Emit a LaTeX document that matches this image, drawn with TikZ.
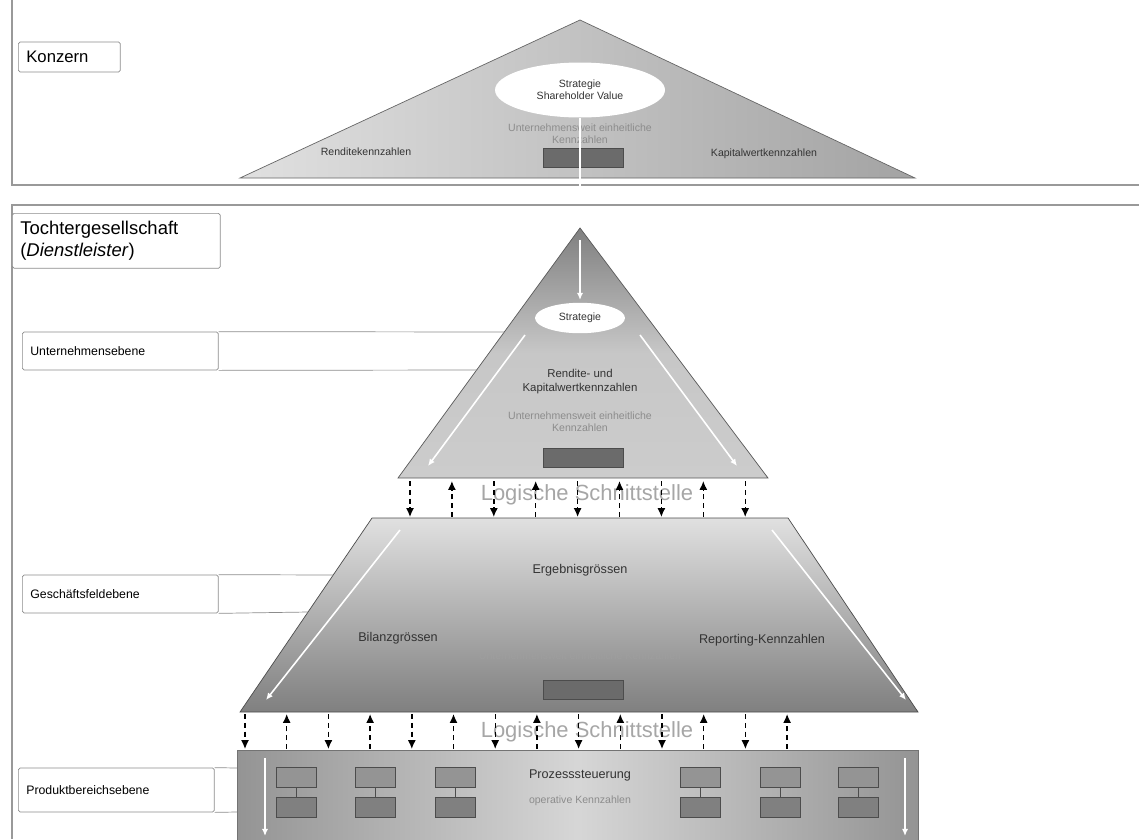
\documentclass[tikz,border=0pt]{standalone}
\usepackage{fontspec}
\setmainfont{Liberation Sans}
\usetikzlibrary{shapes.geometric, arrows.meta}

\tikzset{
  rahmen/.style={draw=black!40, line width=0.6pt},
  ebene/.style={draw=black!45, rounded corners=1pt, fill=white, anchor=west,
    font=\fontsize{7}{8}\selectfont, align=left, inner xsep=0.16cm,
    text width=3.6cm, minimum height=0.76cm},
  kz/.style={font=\fontsize{6}{7}\selectfont, text=black!80, align=center},
  kzgross/.style={kz, font=\fontsize{7.2}{8.5}\selectfont},
  blass/.style={kz, text=black!45},
  block/.style={draw=black!70, fill=black!58, minimum width=1.6cm, minimum height=0.38cm, inner sep=0pt},
  kasten/.style={draw=black!70, fill=black!50, minimum width=0.8cm, minimum height=0.4cm, inner sep=0pt},
  pfeil/.style={densely dashed, line width=0.8pt, -{Latex[length=5pt,width=4.5pt]}},
  schnitt/.style={font=\fontsize{12.5}{14}\selectfont, text=black!35},
  weiss/.style={white, line width=0.9pt, -{Latex[length=4pt,width=3.5pt]}},
}

\begin{document}
\begin{tikzpicture}[x=0.02cm, y=-0.02cm]
  \useasboundingbox (0,0) rectangle (1139,839);

  % Rahmen der beiden Ebenen
  \draw[rahmen] (12,0) -- (12,185) -- (1139,185);
  \draw[rahmen] (1139,205) -- (12,205) -- (12,839);

  % Konzern
  \draw[draw=black!60, left color=black!12, right color=black!36] (580,20) -- (915,178) -- (240,178) -- cycle;
  \node[ellipse, fill=white, minimum width=3.4cm, minimum height=1.1cm, kz] (strat1) at (580,90) {Strategie\\Shareholder Value};
  \node[blass] (kzk) at (580,134) {Unternehmensweit einheitliche\\Kennzahlen};
  \node[kz] (rendite) at (366,152) {Renditekennzahlen};
  \node[kz] (kapital) at (764,154) {Kapitalwertkennzahlen};
  \node[block] (blk1) at (583,158) {};
  \draw[white, line width=0.8pt] (strat1.south) -- (580,203);
  \node[ebene, text width=1.72cm, minimum height=0.6cm, font=\fontsize{9.5}{11}\selectfont] (konzern) at (18,57) {Konzern};

  % Tochtergesellschaft
  \node[ebene, text width=3.84cm, minimum height=1.1cm, font=\fontsize{10.5}{12.5}\selectfont, anchor=north west] (tochter) at (12,213) {Tochtergesellschaft\\(\textit{Dienstleister})};

  % Unternehmensebene
  \draw[draw=black!65, top color=black!50, bottom color=black!20, middle color=black!22] (580,228) -- (768,478) -- (398,478) -- cycle;
  \draw[weiss] (580,240) -- (580,300);
  \node[ellipse, fill=white, minimum width=1.8cm, minimum height=0.6cm, kz] (strat2) at (580,318) {Strategie};
  \node[kz, font=\fontsize{6.5}{8}\selectfont] (rkz) at (580,382) {Rendite- und\\Kapitalwertkennzahlen};
  \node[blass] (uwk) at (580,422) {Unternehmensweit einheitliche\\Kennzahlen};
  \node[block] (blk2) at (583,458) {};
  \draw[weiss] (525,335) -- (428,466);
  \draw[weiss] (640,335) -- (737,466);

  \node[ebene] (ue) at (22,351) {Unternehmensebene};
  \coordinate (ue-o) at (504,332);
  \coordinate (ue-u) at (477,370);
  \draw[black!45] (ue.north east) -- (ue-o);
  \draw[black!45] (ue.south east) -- (ue-u);

  % erste Schnittstelle
  \node[schnitt] (ls1) at (587,495) {Logische Schnittstelle};
  \foreach \i in {0,...,8} {
    \pgfmathsetmacro{\x}{410+41.9*\i}
    \coordinate (a\i) at (\x,481);
    \coordinate (b\i) at (\x,517);
    \ifodd\i \draw[pfeil] (b\i) -- (a\i); \else \draw[pfeil] (a\i) -- (b\i); \fi
  }

  % Geschaeftsfeldebene
  \draw[draw=black!70, top color=black!12, bottom color=black!50] (372,518) -- (788,518) -- (918,712) -- (240,712) -- cycle;
  \node[kzgross] (erg) at (580,570) {Ergebnisgrössen};
  \node[kzgross] (bil) at (398,638) {Bilanzgrössen};
  \node[kzgross] (rep) at (762,640) {Reporting-Kennzahlen};
  \node[blass, text=black!38] (gfk) at (580,656) {Unternehmensweit einheitliche Kennzahlen};
  \node[block] (blk3) at (583,690) {};
  \draw[weiss] (400,530) -- (266,700);
  \draw[weiss] (772,530) -- (906,700);

  \node[ebene] (ge) at (22,594) {Geschäftsfeldebene};
  \coordinate (ge-o) at (333,575);
  \coordinate (ge-u) at (308,612);
  \draw[black!45] (ge.north east) -- (ge-o);
  \draw[black!45] (ge.south east) -- (ge-u);

  % zweite Schnittstelle
  \node[schnitt] (ls2) at (587,732) {Logische Schnittstelle};
  \foreach \i in {0,...,13} {
    \pgfmathsetmacro{\x}{245+41.7*\i}
    \coordinate (c\i) at (\x,714);
    \coordinate (d\i) at (\x,749);
    \ifodd\i \draw[pfeil] (d\i) -- (c\i); \else \draw[pfeil] (c\i) -- (d\i); \fi
  }

  % Produktbereichsebene
  \draw[draw=black!55, left color=black!42, right color=black!42, middle color=black!16] (237,750) rectangle (918,845);
  \draw[weiss] (265,758) -- (265,836);
  \draw[weiss] (905,758) -- (905,836);
  \foreach \n/\x in {1/296, 2/375, 3/455, 4/700, 5/780, 6/858} {
    \node[kasten, fill=black!42] (o\n) at (\x,777) {};
    \node[kasten] (u\n) at (\x,807) {};
    \draw[black!70] (o\n) -- (u\n);
  }
  \node[kzgross] (proz) at (580,775) {Prozesssteuerung};
  \node[blass] (opk) at (580,801) {operative Kennzahlen};

  \node[ebene, minimum height=0.88cm] (pe) at (18,790) {Produktbereichsebene};
  \coordinate (pe-o) at (237,768);
  \coordinate (pe-u) at (237,812);
  \draw[black!45] (pe.north east) -- (pe-o);
  \draw[black!45] (pe.south east) -- (pe-u);
\end{tikzpicture}
\end{document}
